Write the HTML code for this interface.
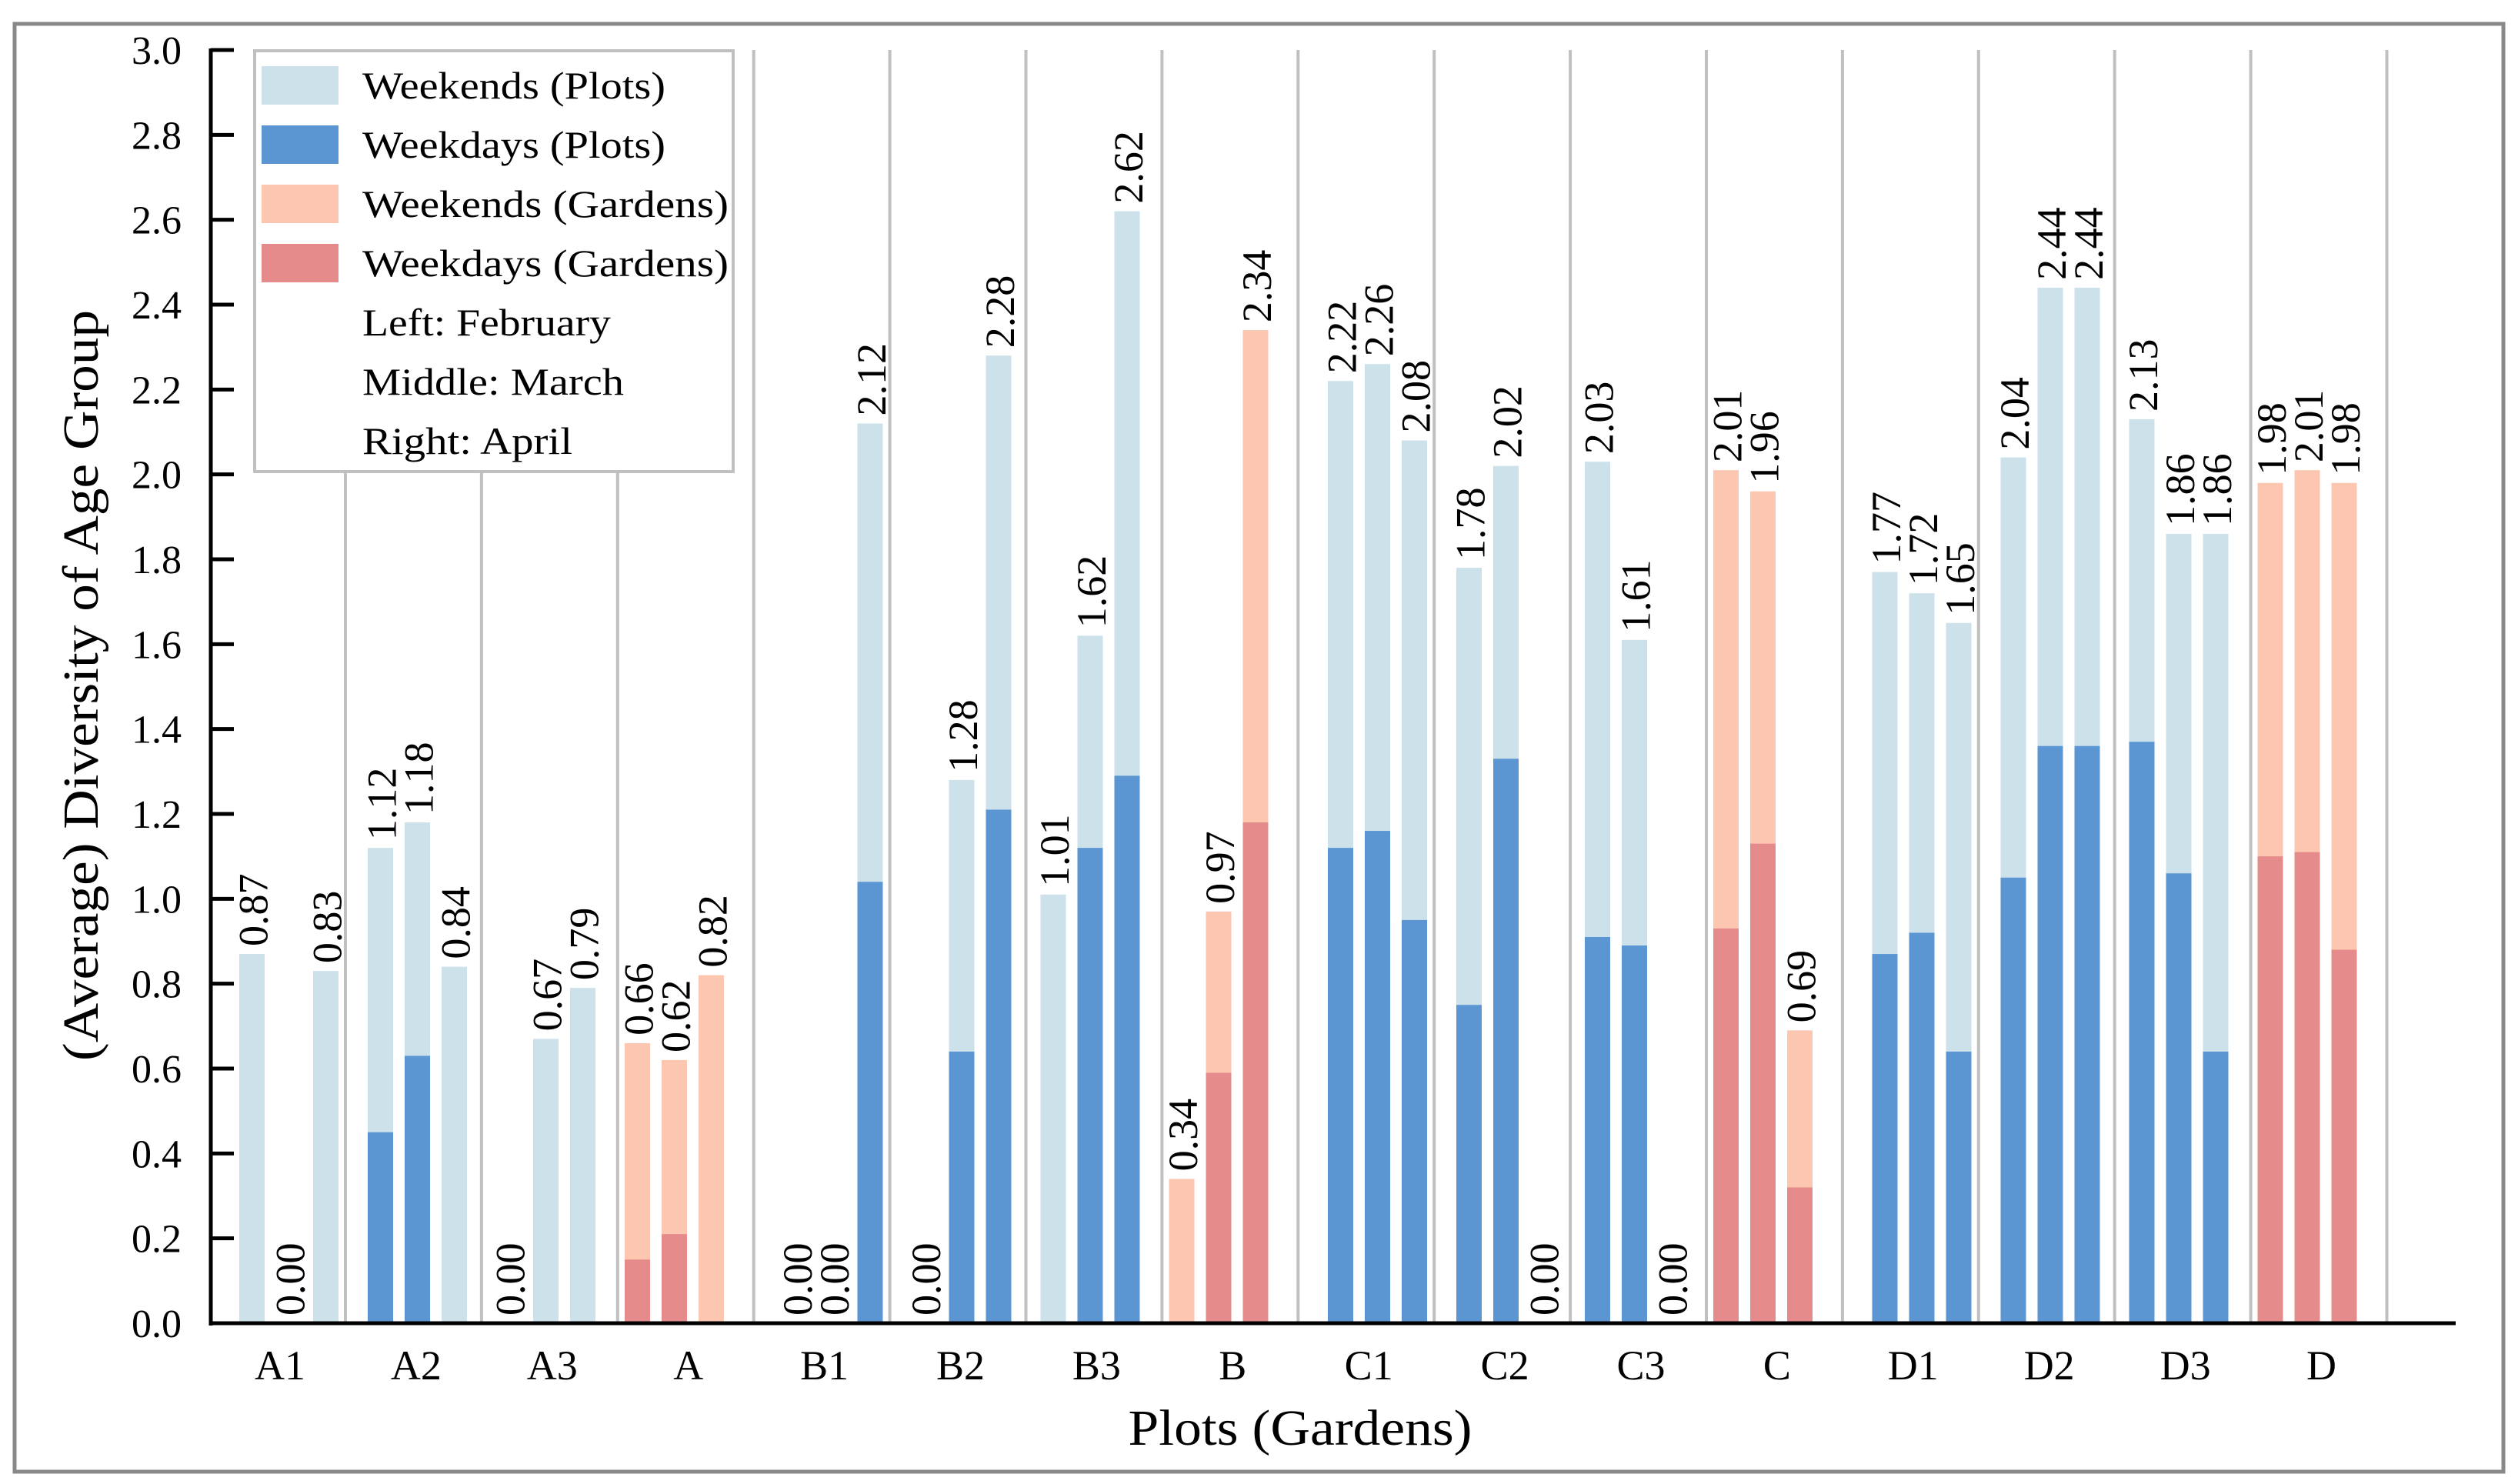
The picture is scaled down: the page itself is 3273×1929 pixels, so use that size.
<!DOCTYPE html>
<html><head><meta charset="utf-8"><style>
html,body{margin:0;padding:0;background:#fff;}
svg{display:block;font-family:"Liberation Serif",serif;}
</style></head><body>
<svg id="chart" width="3273" height="1929" viewBox="0 0 3273 1929" xmlns="http://www.w3.org/2000/svg">
<rect x="19" y="31" width="3235" height="1882" fill="#fff" stroke="#888" stroke-width="5"/>
<g id="seps"></g>
<g id="bars"></g>
<g id="labels"></g>
<g id="axes"></g>
<g id="legend"></g>
<text x="127" y="891" transform="rotate(-90 127 891)" text-anchor="middle" font-size="66" textLength="976" lengthAdjust="spacingAndGlyphs">(Average) Diversity of Age Group</text>
<text x="1690" y="1878" text-anchor="middle" font-size="66" textLength="447" lengthAdjust="spacingAndGlyphs">Plots (Gardens)</text>
</svg>
<script>
const categories = ["A1","A2","A3","A","B1","B2","B3","B","C1","C2","C3","C","D1","D2","D3","D"];
const weekendTotals = [
 [0.87,0.00,0.83],[1.12,1.18,0.84],[0.00,0.67,0.79],[0.66,0.62,0.82],
 [0.00,0.00,2.12],[0.00,1.28,2.28],[1.01,1.62,2.62],[0.34,0.97,2.34],
 [2.22,2.26,2.08],[1.78,2.02,0.00],[2.03,1.61,0.00],[2.01,1.96,0.69],
 [1.77,1.72,1.65],[2.04,2.44,2.44],[2.13,1.86,1.86],[1.98,2.01,1.98]];
const weekdayValues = [
 [0,0,0],[0.45,0.63,0],[0,0,0],[0.15,0.21,0],
 [0,0,1.04],[0,0.64,1.21],[0,1.12,1.29],[0,0.59,1.18],
 [1.12,1.16,0.95],[0.75,1.33,0],[0.91,0.89,0],[0.93,1.13,0.32],
 [0.87,0.92,0.64],[1.05,1.36,1.36],[1.37,1.06,0.64],[1.10,1.11,0.88]];
const yTicks = [0,0.2,0.4,0.6,0.8,1.0,1.2,1.4,1.6,1.8,2.0,2.2,2.4,2.6,2.8,3.0];
const legendLabels = ["Weekends (Plots)","Weekdays (Plots)","Weekends (Gardens)","Weekdays (Gardens)","Left: February","Middle: March","Right: April"];

const NS="http://www.w3.org/2000/svg";
const X0=274, X1=3192, Y0=1720, YTOP=65, YMAX=3.0;
function y(v){return Y0-(v/YMAX)*(Y0-YTOP);}
function slotCenter(i){return 364+i*176.9;}
function sepX(i){return 449+i*176.9;}
function barLeft(i,m){const k=Math.floor(i/4), j=i%4; return 311+k*707.5+j*167+m*48;}
const BW=33;
function mk(tag,attrs,parent){const e=document.createElementNS(NS,tag);for(const a in attrs)e.setAttribute(a,attrs[a]);parent.appendChild(e);return e;}

const seps=document.getElementById('seps');
for(let i=0;i<categories.length;i++){
  const l=mk('line',{x1:sepX(i),x2:sepX(i),y1:YTOP,y2:Y0,stroke:'#c0c0c0','stroke-width':4},seps);
  
  
}
const bars=document.getElementById('bars'), labels=document.getElementById('labels');
const months=['feb','mar','apr'];
for(let i=0;i<categories.length;i++){
  const garden=(i%4)===3;
  const light=garden?'#fcc6b1':'#cde1ea', dark=garden?'#e68b8b':'#5b96d2';
  for(let m=0;m<3;m++){
    const x=barLeft(i,m), t=weekendTotals[i][m], d=weekdayValues[i][m];
    if(t>0){
      const r=mk('rect',{x:x,y:y(t),width:BW,height:Y0-y(t),fill:light},bars);
      
      
    }
    if(d>0){
      const r2=mk('rect',{x:x,y:y(d),width:BW,height:Y0-y(d),fill:dark},bars);
      
      
    }
    const cx=x+BW/2+2, ty=y(t)-10;
    const tx=mk('text',{x:cx,y:ty,transform:'rotate(-90 '+cx+' '+ty+')','font-size':54,'dominant-baseline':'central'},labels);
    tx.textContent=t.toFixed(2);
    
    
  }
}
const axes=document.getElementById('axes');
const ya=mk('line',{x1:X0,x2:X0,y1:YTOP-2,y2:Y0+3,stroke:'#000','stroke-width':5},axes);


const xa=mk('line',{x1:X0-2,x2:X1,y1:Y0,y2:Y0,stroke:'#000','stroke-width':5},axes);


yTicks.forEach(v=>{
  const tk=mk('line',{x1:X0,x2:X0+30,y1:y(v),y2:y(v),stroke:'#000','stroke-width':5},axes);
  
  
  const tl=mk('text',{x:236,y:y(v)+18,'text-anchor':'end','font-size':52},axes);
  tl.textContent=v.toFixed(1);
  
  
});
categories.forEach((c,i)=>{
  const xl=mk('text',{x:slotCenter(i),y:1793,'text-anchor':'middle','font-size':54},axes);
  xl.textContent=c;
  
  
});
const lg=document.getElementById('legend');
const box=mk('rect',{x:331,y:66,width:622,height:547,fill:'#fff',stroke:'#c0c0c0','stroke-width':4},lg);


const swatchColors=['#cde1ea','#5b96d2','#fcc6b1','#e68b8b'];
const textWidths=[394,394,476,476,323,340,273];
legendLabels.forEach((lab,r)=>{
  const cy=111+r*77;
  if(r<4){
    const s=mk('rect',{x:340,y:cy-25,width:100,height:50,fill:swatchColors[r]},lg);
    
    
  }
  const t=mk('text',{x:471,y:cy+17,'font-size':50,textLength:textWidths[r],lengthAdjust:'spacingAndGlyphs'},lg);
  t.textContent=lab;
  
  
});
</script>
</body></html>
